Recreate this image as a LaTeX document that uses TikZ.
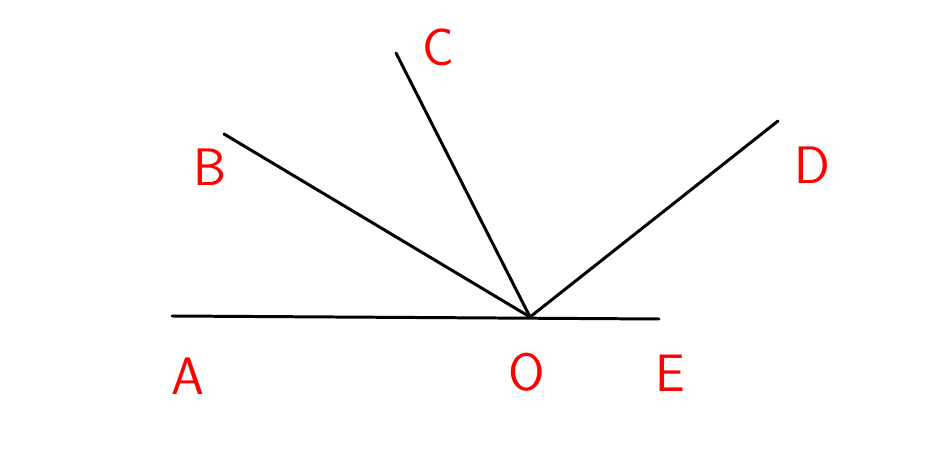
\documentclass[tikz,border=0pt]{standalone}
\usepackage{tikz}
\usetikzlibrary{positioning}
\begin{document}
\begin{tikzpicture}[x=0.02cm,y=-0.02cm,
    ray/.style={line width=1.7pt,line cap=round},
    lbl/.style={text=red,font=\fontsize{30}{32}\selectfont\sffamily}]
      \useasboundingbox (0,0) rectangle (940,452);

      \coordinate (O) at (530,317);
      \coordinate (A) at (172,316);
      \coordinate (E) at (659,319);
      \coordinate (B) at (224,134);
      \coordinate (C) at (396,53);
      \coordinate (D) at (778,121);

      \node[lbl] (lA) at (188,376) {A};
      \node[lbl] (lO) at (527,372) {O};
      \node[lbl] (lE) at (670,373) {E};
      \node[lbl] (lB) at (210,167) {B};
      \node[lbl] (lC) at (438,47) {C};
      \node[lbl] (lD) at (812,165) {D};

      \path[ray]
      (A) edge (E)
      (O) edge (B)
      (O) edge (C)
      (O) edge (D)
      ;
    \end{tikzpicture}
\end{document}
